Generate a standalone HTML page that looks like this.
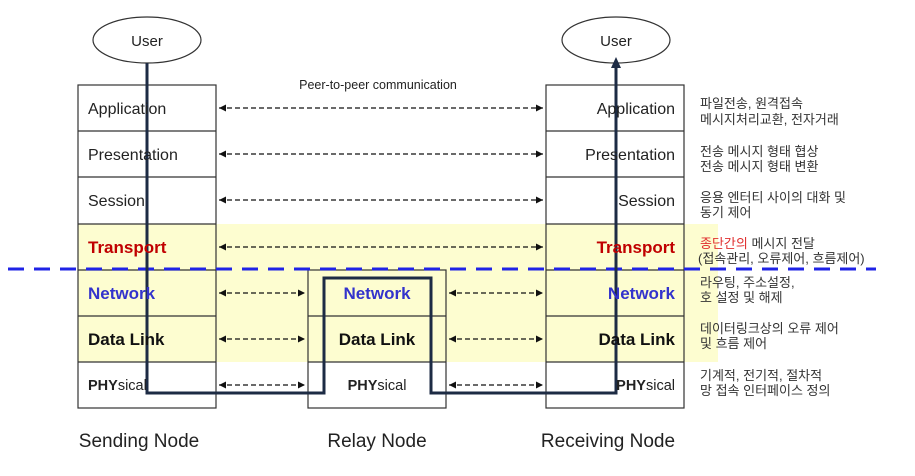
<!DOCTYPE html>
<html><head><meta charset="utf-8"><style>
body{margin:0;background:#fff}
svg{display:block}
.l{font-family:"Liberation Sans","Noto Sans CJK KR",sans-serif}
.k{font-family:"Liberation Sans","Noto Sans CJK KR",sans-serif;font-size:13px;fill:#333}
</style></head><body>
<svg width="915" height="476" viewBox="0 0 915 476" xmlns="http://www.w3.org/2000/svg">
<defs>
<marker id="a" markerWidth="8" markerHeight="8" refX="7" refY="4" orient="auto-start-reverse" markerUnits="userSpaceOnUse"><path d="M0,0.5 L7,4 L0,7.5z" fill="#111"/></marker>
<marker id="b" markerWidth="12" markerHeight="12" refX="6" refY="10" orient="0" markerUnits="userSpaceOnUse"><path d="M1,12 L6,1 L11,12z" fill="#1d2b44"/></marker>
</defs>
<rect x="78" y="224" width="640" height="138" fill="#fdfdd0"/>
<g fill="none" stroke="#333" stroke-width="1.2">
<rect x="78" y="85" width="138" height="323"/>
<line x1="78" y1="131" x2="216" y2="131"/><line x1="78" y1="177" x2="216" y2="177"/><line x1="78" y1="224" x2="216" y2="224"/><line x1="78" y1="270" x2="216" y2="270"/><line x1="78" y1="316" x2="216" y2="316"/><line x1="78" y1="362" x2="216" y2="362"/>
<rect x="546" y="85" width="138" height="323"/>
<line x1="546" y1="131" x2="684" y2="131"/><line x1="546" y1="177" x2="684" y2="177"/><line x1="546" y1="224" x2="684" y2="224"/><line x1="546" y1="270" x2="684" y2="270"/><line x1="546" y1="316" x2="684" y2="316"/><line x1="546" y1="362" x2="684" y2="362"/>
<rect x="308" y="270" width="138" height="138"/>
<line x1="308" y1="316" x2="446" y2="316"/><line x1="308" y1="362" x2="446" y2="362"/>
<ellipse cx="147" cy="40" rx="54" ry="23" fill="#fff"/>
<ellipse cx="616" cy="40" rx="54" ry="23" fill="#fff"/>
</g>
<g stroke="#111" stroke-width="1.2" stroke-dasharray="5,3" marker-start="url(#a)" marker-end="url(#a)">
<line x1="219" y1="108" x2="543" y2="108"/>
<line x1="219" y1="154" x2="543" y2="154"/>
<line x1="219" y1="200" x2="543" y2="200"/>
<line x1="219" y1="247" x2="543" y2="247"/>
<line x1="219" y1="293" x2="305" y2="293"/><line x1="449" y1="293" x2="543" y2="293"/>
<line x1="219" y1="339" x2="305" y2="339"/><line x1="449" y1="339" x2="543" y2="339"/>
<line x1="219" y1="385" x2="305" y2="385"/><line x1="449" y1="385" x2="543" y2="385"/>
</g>
<line x1="8" y1="269" x2="876" y2="269" stroke="#1f23e6" stroke-width="3" stroke-dasharray="16,10"/>
<path d="M147,63 V393 H324 V278 H431 V393 H616 V66" fill="none" stroke="#1d2b44" stroke-width="3" marker-end="url(#b)"/>
<g class="l" fill="#222">
<text x="147" y="46" font-size="15" text-anchor="middle">User</text>
<text x="616" y="46" font-size="15" text-anchor="middle">User</text>
<text x="378" y="89" font-size="12.5" text-anchor="middle">Peer-to-peer communication</text>
<text x="88" y="114" font-size="16">Application</text>
<text x="88" y="160" font-size="16">Presentation</text>
<text x="88" y="206" font-size="16">Session</text>
<text x="88" y="253" font-size="17" font-weight="bold" fill="#c00000">Transport</text>
<text x="88" y="299" font-size="17" font-weight="bold" fill="#3333cc">Network</text>
<text x="88" y="345" font-size="17" font-weight="bold" fill="#111">Data Link</text>
<text x="88" y="390" font-size="14.5"><tspan font-weight="bold">PHY</tspan>sical</text>
<text x="675" y="114" font-size="16" text-anchor="end">Application</text>
<text x="675" y="160" font-size="16" text-anchor="end">Presentation</text>
<text x="675" y="206" font-size="16" text-anchor="end">Session</text>
<text x="675" y="253" font-size="17" font-weight="bold" fill="#c00000" text-anchor="end">Transport</text>
<text x="675" y="299" font-size="17" font-weight="bold" fill="#3333cc" text-anchor="end">Network</text>
<text x="675" y="345" font-size="17" font-weight="bold" fill="#111" text-anchor="end">Data Link</text>
<text x="675" y="390" font-size="14.5" text-anchor="end"><tspan font-weight="bold">PHY</tspan>sical</text>
<text x="377" y="299" font-size="17" font-weight="bold" fill="#3333cc" text-anchor="middle">Network</text>
<text x="377" y="345" font-size="17" font-weight="bold" fill="#111" text-anchor="middle">Data Link</text>
<text x="377" y="390" font-size="14.5" text-anchor="middle"><tspan font-weight="bold">PHY</tspan>sical</text>
<text x="139" y="447" font-size="19" text-anchor="middle">Sending Node</text>
<text x="377" y="447" font-size="19" text-anchor="middle">Relay Node</text>
<text x="608" y="447" font-size="19" text-anchor="middle">Receiving Node</text>
</g>
<g class="k">
<text x="700" y="108">파일전송, 원격접속</text><text x="700" y="124">메시지처리교환, 전자거래</text>
<text x="700" y="156">전송 메시지 형태 협상</text><text x="700" y="171">전송 메시지 형태 변환</text>
<text x="700" y="202">응용 엔터티 사이의 대화 및</text><text x="700" y="217">동기 제어</text>
<text x="700" y="248"><tspan fill="#e03030">종단간의</tspan> 메시지 전달</text><text x="698" y="263">(접속관리, 오류제어, 흐름제어)</text>
<text x="700" y="287">라우팅, 주소설정,</text><text x="700" y="302">호 설정 및 해제</text>
<text x="700" y="333">데이터링크상의 오류 제어</text><text x="700" y="348">및 흐름 제어</text>
<text x="700" y="380">기계적, 전기적, 절차적</text><text x="700" y="395">망 접속 인터페이스 정의</text>
</g>
</svg>
</body></html>
